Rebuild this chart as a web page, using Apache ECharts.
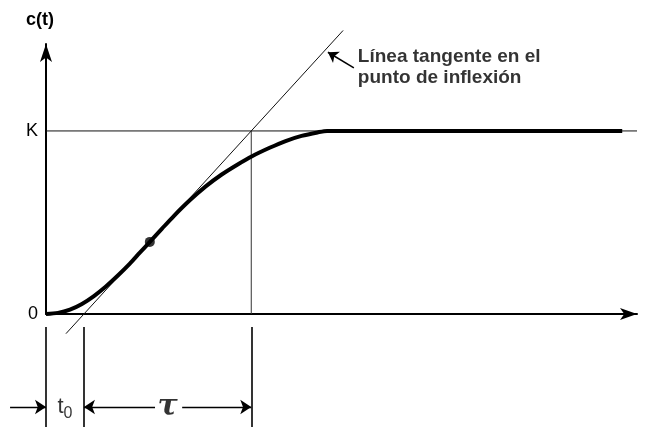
<!DOCTYPE html>
<html>
<head>
<meta charset="utf-8">
<script src="https://cdn.jsdelivr.net/npm/echarts@6/dist/echarts.min.js"></script>
<style>
  html, body { margin: 0; padding: 0; background: #fff; }
  #chart { width: 652px; height: 427px; }
</style>
</head>
<body>
<div id="chart"></div>
<script>
// Step response c(t) of a process, with the tangent through the inflection point
const K = 1;
const t0 = 0.95;          // dead time: where the tangent crosses 0
const tau = 4.19;         // time constant: tangent goes from 0 to K over tau
const inflection = [2.6, 0.394];

const curveT = [0, 0.3, 0.6, 0.9, 1.2, 1.5, 1.8, 2.1, 2.35, 2.6, 2.9, 3.2, 3.6, 4.0, 4.4, 4.8, 5.16, 5.6, 6.0, 6.4, 6.8, 7.04, 7.6, 14.43];
const curveC = [0, 0.006, 0.024, 0.055, 0.098, 0.150, 0.210, 0.275, 0.335, 0.394, 0.465, 0.535, 0.621, 0.697, 0.762, 0.817, 0.862, 0.908, 0.945, 0.973, 0.992, 1.0, 1.0, 1.0];

const tangentT = [0.5, 7.44];
const tMax = 14.8;
const yTicks = { 0: '0', 1: 'K' };
const noteText = 'Línea tangente en el\npunto de inflexión';

const slope = K / tau;
const tangentAt = t => slope * (t - t0);

const curveData = curveT.map((t, i) => [t, curveC[i]]);
const tangentData = tangentT.map(t => [t, tangentAt(t)]);

const dimY = -0.508;     // height of the dimension arrows under the axis
const tickTop = -0.071, tickBottom = -0.62;

const chart = echarts.init(document.getElementById('chart'), null, { renderer: 'canvas' });

const thin = { color: '#111', width: 1 };

chart.setOption({
  backgroundColor: '#fff',
  animation: false,
  grid: { left: 46, right: 15, top: 44, bottom: 113 },
  xAxis: {
    type: 'value', min: 0, max: tMax,
    axisLine: { show: true, onZero: true, symbol: ['none', 'arrow'], symbolSize: [9, 17],
      lineStyle: { color: '#000', width: 2 } },
    axisTick: { show: false }, axisLabel: { show: false }, splitLine: { show: false }
  },
  yAxis: {
    type: 'value', min: 0, max: 1.475, interval: 1,
    name: 'c(t)', nameLocation: 'end', nameGap: 15,
    nameTextStyle: { fontFamily: 'Liberation Sans', fontWeight: 'bold', fontSize: 18, color: '#000',
      align: 'center', padding: [0, 12, 0, 0] },
    axisLine: { show: true, symbol: ['none', 'arrow'], symbolSize: [9, 18],
      lineStyle: { color: '#000', width: 2 } },
    axisTick: { show: false }, splitLine: { show: false },
    axisLabel: { fontFamily: 'Liberation Sans', fontSize: 18, color: '#000', margin: 8,
      formatter: v => yTicks[v] !== undefined ? yTicks[v] : '' }
  },
  series: [
    { // level K
      type: 'line', data: [[0, K], [tMax, K]], symbol: 'none', lineStyle: thin, z: 2, clip: false
    },
    { // tau mark above the axis
      type: 'line', data: [[t0 + tau, 0], [t0 + tau, K]], symbol: 'none',
      lineStyle: { color: '#333', width: 1 }, z: 2, clip: false
    },
    { // tangent line
      type: 'line', data: tangentData, symbol: 'none', lineStyle: thin, z: 3, clip: false
    },
    { // response curve
      type: 'line', data: curveData, symbol: 'none', smooth: 0.3,
      lineStyle: { color: '#000', width: 4 }, z: 4, clip: false
    },
    { // inflection point
      type: 'scatter', data: [inflection], symbol: 'circle', symbolSize: 10,
      itemStyle: { color: '#000' }, z: 5, clip: false
    },
    { // extension lines below the axis
      type: 'lines', coordinateSystem: 'cartesian2d', clip: false, z: 3,
      lineStyle: { color: '#000', width: 1.6, opacity: 1 },
      data: [0, t0, t0 + tau].map(t => ({ coords: [[t, tickTop], [t, tickBottom]] }))
    },
    { // dimension arrows for t0 and tau
      type: 'lines', coordinateSystem: 'cartesian2d', clip: false, z: 3,
      symbol: ['none', 'arrow'], symbolSize: 11,
      lineStyle: { color: '#000', width: 1.3, opacity: 1 },
      data: [
        { coords: [[-0.9, dimY], [0, dimY]] },
        { coords: [[2.73, dimY], [t0, dimY]] },
        { coords: [[3.41, dimY], [t0 + tau, dimY]] }
      ]
    },
    { // pointer to the tangent
      type: 'lines', coordinateSystem: 'cartesian2d', clip: false, z: 3,
      symbol: ['none', 'arrow'], symbolSize: 10,
      lineStyle: { color: '#000', width: 1.5, opacity: 1 },
      data: [{ coords: [[7.71, 1.344], [7.06, 1.43]] }]
    },
    { // text labels
      type: 'scatter', symbolSize: 0, clip: false, z: 6, silent: true,
      data: [
        { value: [t0 / 2, dimY], label: {
            show: true, position: 'inside', formatter: '{t|t}{s|0}',
            rich: {
              t: { fontFamily: 'Liberation Sans', fontSize: 22, color: '#000' },
              s: { fontFamily: 'Liberation Sans', fontSize: 16, color: '#000', padding: [14, 0, 0, 0] }
            } } },
        { value: [t0 + tau / 2, dimY], label: {
            show: true, position: 'inside', formatter: 'τ',
            fontFamily: 'DejaVu Serif', fontStyle: 'italic', fontWeight: 'bold', fontSize: 30, color: '#000',
            padding: [0, 0, 8, 0] } },
        { value: [7.81, 1.35], label: {
            show: true, position: 'right', distance: 0, formatter: noteText, align: 'left',
            fontFamily: 'Liberation Sans', fontWeight: 'bold', fontSize: 19, lineHeight: 21, color: '#000' } }
      ]
    }
  ]
});
</script>
</body>
</html>
